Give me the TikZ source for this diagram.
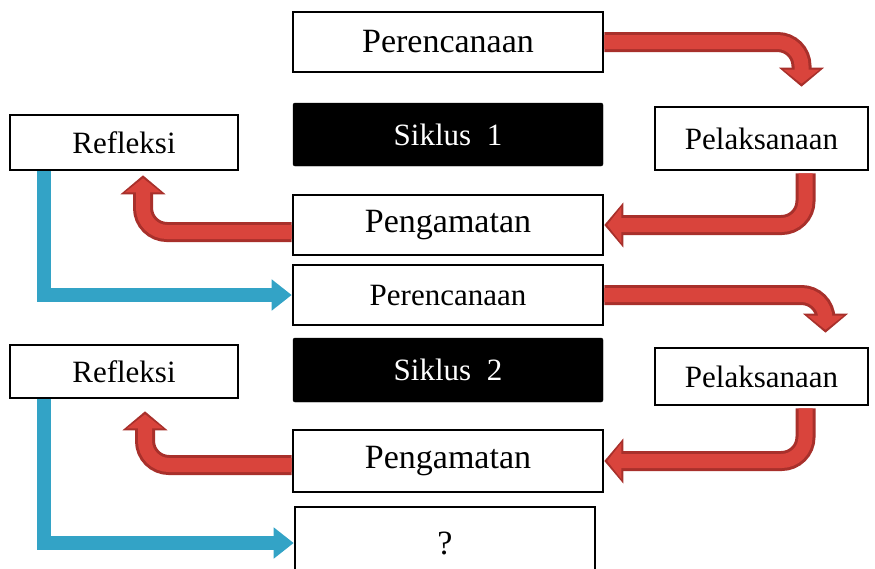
\documentclass[tikz,border=0pt]{standalone}
\usepackage{fontspec}
\setmainfont{Liberation Serif}
\usetikzlibrary{arrows.meta,calc}
\definecolor{redout}{HTML}{A8302B}
\definecolor{redin}{HTML}{D9443C}
\definecolor{bluearr}{HTML}{33A3C6}
\newcommand{\rarr}[1]{\draw[redo]#1;\draw[redi]#1;}
\begin{document}
\begin{tikzpicture}[x=1pt,y=-1pt,
  wbox/.style={draw=black,line width=2.6pt,fill=white,inner sep=0pt,font=\fontsize{31}{36}\selectfont},
  kbox/.style={draw=black,fill=black,text=white,rounded corners=2pt,inner sep=0pt,font=\fontsize{31}{36}\selectfont},
  redo/.style={draw=redout,line width=20pt,rounded corners=24pt,-{Triangle[width=44pt,length=19pt]}},
  redi/.style={draw=redin,line width=14pt,rounded corners=24pt,-{Triangle[width=35pt,length=14pt]},shorten >=3pt},
  barr/.style={draw=bluearr,line width=14pt,-{Triangle[width=30pt,length=20pt]}}]
\useasboundingbox (0,0) rectangle (875,568);
% cycle 1
\node[wbox,minimum width=310pt,minimum height=60pt,font=\fontsize{34}{38}\selectfont] (p1) at (448,42) {Perencanaan};
\node[kbox,minimum width=310pt,minimum height=63pt] (s1) at (448,134.5) {Siklus\ \ 1};
\node[wbox,minimum width=213pt,minimum height=63pt] (l1) at (761.5,138.5) {Pelaksanaan};
\node[wbox,minimum width=228pt,minimum height=55pt] (r1) at (124,142.5) {Refleksi};
\node[wbox,minimum width=310pt,minimum height=60pt,font=\fontsize{34}{38}\selectfont] (m1) at (448,225) {Pengamatan};
% cycle 2
\node[wbox,minimum width=310pt,minimum height=60pt] (p2) at (448,295) {Perencanaan};
\node[kbox,minimum width=310pt,minimum height=64pt] (s2) at (448,370) {Siklus\ \ 2};
\node[wbox,minimum width=213pt,minimum height=57pt] (l2) at (761.5,376.5) {Pelaksanaan};
\node[wbox,minimum width=228pt,minimum height=53pt] (r2) at (124,371.5) {Refleksi};
\node[wbox,minimum width=310pt,minimum height=62pt,font=\fontsize{34}{38}\selectfont] (m2) at (448,461) {Pengamatan};
\node[wbox,minimum width=300pt,minimum height=72pt,font=\fontsize{34}{38}\selectfont] (q) at (445,543) {?};
% arrows cycle 1
\rarr{(p1.east) -| ($(l1.north)+(40,-19)$)}
\rarr{($(l1.south)+(44,2)$) |- (m1.east)}
\rarr{($(m1.west)+(0,7)$) -| ($(r1.south)+(19,4)$)}
\draw[barr] ($(r1.south west)+(35,0)$) |- (p2.west);
% arrows cycle 2
\rarr{(p2.east) -| ($(l2.north)+(64,-14)$)}
\rarr{($(l2.south)+(44,2)$) |- (m2.east)}
\rarr{($(m2.west)+(0,4)$) -| ($(r2.south)+(21,12)$)}
\draw[barr] ($(r2.south west)+(35,0)$) |- (q.west);
\end{tikzpicture}
\end{document}
